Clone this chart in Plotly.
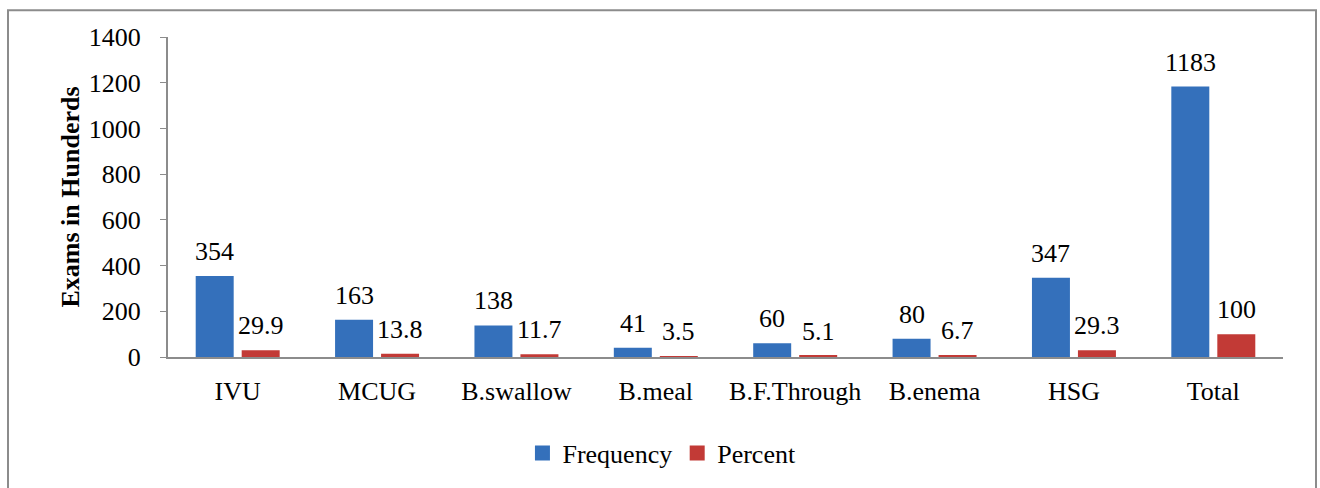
import plotly.graph_objects as go

categories = ["IVU", "MCUG", "B.swallow", "B.meal", "B.F.Through", "B.enema", "HSG", "Total"]
frequency = [354, 163, 138, 41, 60, 80, 347, 1183]
percent = [29.9, 13.8, 11.7, 3.5, 5.1, 6.7, 29.3, 100]
y_ticks = [0, 200, 400, 600, 800, 1000, 1200, 1400]

FONT = "Liberation Serif, Times New Roman, serif"
FS = 26
BLUE = "#3470bb"
RED = "#c23a36"

fig = go.Figure()
fig.add_trace(go.Bar(
    x=categories, y=frequency, name="Frequency", showlegend=False,
    marker=dict(color=BLUE, line=dict(width=0)),
))
fig.add_trace(go.Bar(
    x=categories, y=percent, name="Percent", showlegend=False,
    marker=dict(color=RED, line=dict(width=0)),
))
# legend entries with larger square swatches
for name, col in (("Frequency", BLUE), ("Percent", RED)):
    fig.add_trace(go.Scatter(x=[None], y=[None], mode="markers", name=name,
                             marker=dict(symbol="square", size=15, color=col)))

# value labels above bars
for vals, dx in ((frequency, -23), (percent, 23)):
    for c, v in zip(categories, vals):
        fig.add_annotation(x=c, y=v, xref="x", yref="y", text=str(v), showarrow=False,
                           xshift=dx, yshift=8, yanchor="bottom",
                           font=dict(family=FONT, size=FS, color="#000"))

fig.update_layout(
    width=1320, height=488,
    margin=dict(l=168, r=37, t=37, b=128),
    paper_bgcolor="white", plot_bgcolor="white",
    barmode="group", bargap=0.34, bargroupgap=0.174,
    font=dict(family=FONT, size=FS, color="#000"),
    showlegend=True,
    legend=dict(orientation="h", x=0.443, xanchor="center", y=-0.30, yanchor="middle",
                font=dict(family=FONT, size=FS), itemwidth=30, traceorder="normal"),
)
fig.update_xaxes(
    showline=True, linecolor="#8c8c8c", linewidth=2, showgrid=False,
    ticks="outside", ticklen=10, tickcolor="rgba(0,0,0,0)",
    tickfont=dict(family=FONT, size=FS),
)
fig.update_yaxes(
    range=[0, 1400], tickvals=y_ticks, showline=True, linecolor="#8c8c8c", linewidth=2,
    showgrid=False, zeroline=False, ticks="outside", ticklen=6, tickcolor="#8c8c8c",
    tickfont=dict(family=FONT, size=FS), ticklabelstandoff=14,
    title=dict(text="<b>Exams in Hunderds</b>", font=dict(family=FONT, size=FS), standoff=2),
)
# outer chart border
fig.add_shape(type="rect", xref="paper", yref="paper",
              x0=(8 - 168) / 1115, x1=(1316 - 168) / 1115,
              y0=(360 - 500) / 323, y1=(360 - 10) / 323,
              line=dict(color="#8c8c8c", width=2), fillcolor="rgba(0,0,0,0)", layer="below")

fig.write_html("out.html", config={"displayModeBar": False},
               post_script="document.body.style.margin='0';document.body.style.overflow='hidden';")
